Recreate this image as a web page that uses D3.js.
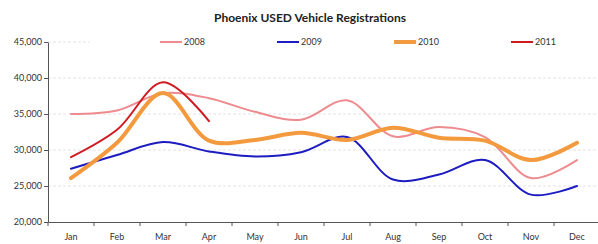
<!DOCTYPE html>
<html>
<head>
<meta charset="utf-8">
<script src="https://cdn.jsdelivr.net/npm/d3@7"></script>
<style>
  body { margin: 0; background: #fff; }
  text { font-family: "Lato", "Open Sans", sans-serif; }
</style>
</head>
<body>
<script>
// data
var months = ["Jan","Feb","Mar","Apr","May","Jun","Jul","Aug","Sep","Oct","Nov","Dec"];
var y2008 = [35000, 35500, 37900, 37200, 35300, 34200, 36900, 31900, 33200, 31800, 26100, 28600];
var y2009 = [27400, 29300, 31100, 29800, 29100, 29700, 31800, 25900, 26600, 28600, 23800, 25000];
var y2010 = [26100, 31000, 37900, 31300, 31400, 32400, 31400, 33100, 31700, 31300, 28600, 31000];
var y2011 = [29000, 32800, 39400, 34000];
var yTicks = [20000, 25000, 30000, 35000, 40000, 45000];

var series = [
  {name: "2008", values: y2008, color: "#EE8B8E", width: 2},
  {name: "2009", values: y2009, color: "#1C1CC0", width: 2},
  {name: "2010", values: y2010, color: "#F39A3E", width: 4},
  {name: "2011", values: y2011, color: "#D01A22", width: 2}
];

var svg = d3.select("body").append("svg")
  .attr("width", 598)
  .attr("height", 244);

var x = d3.scaleBand().domain(months).range([48, 600]);
var y = d3.scaleLinear().domain([20000, 45000]).range([222, 42]);

// gridlines
svg.append("g").selectAll("line")
  .data(yTicks.slice(1))
  .enter().append("line")
  .attr("x1", 48).attr("x2", 598)
  .attr("y1", function(d){ return y(d); })
  .attr("y2", function(d){ return y(d); })
  .attr("stroke", "#e2e2e2")
  .attr("stroke-dasharray", "3,2")
  .attr("stroke-width", 1);

// title
svg.append("text")
  .attr("x", 310).attr("y", 22)
  .attr("text-anchor", "middle")
  .style("font-size", "12px")
  .style("font-weight", "bold")
  .style("fill", "#222")
  .text("Phoenix USED Vehicle Registrations");

// y axis
var yAxis = svg.append("g")
  .attr("transform", "translate(48,0)")
  .call(d3.axisLeft(y).tickValues(yTicks).tickSize(4).tickSizeOuter(0).tickFormat(d3.format(",")));
yAxis.select(".domain").attr("stroke", "#555");
yAxis.selectAll(".tick line").attr("stroke", "#555");
yAxis.selectAll("text").style("font-size", "9px").style("fill", "#333").attr("x", -6);

// x axis
var xAxis = svg.append("g")
  .attr("transform", "translate(0,222)")
  .call(d3.axisBottom(x).tickSize(0).tickSizeOuter(0));
xAxis.select(".domain").attr("stroke", "#555");
xAxis.selectAll("text").style("font-size", "9px").style("fill", "#333").attr("y", 12);
xAxis.append("g").selectAll("line")
  .data(months)
  .enter().append("line")
  .attr("x1", function(d){ return x(d); })
  .attr("x2", function(d){ return x(d); })
  .attr("y1", 0).attr("y2", 4)
  .attr("stroke", "#555");

// legend background + entries
svg.append("rect")
  .attr("x", 90).attr("y", 35).attr("width", 508).attr("height", 14)
  .attr("fill", "#fff");
var legendX = [160, 277, 394, 511];
var legend = svg.append("g").selectAll("g")
  .data(series)
  .enter().append("g")
  .attr("transform", function(d, i){ return "translate(" + legendX[i] + ",42)"; });
legend.append("line")
  .attr("x1", 0).attr("x2", 22)
  .attr("stroke", function(d){ return d.color; })
  .attr("stroke-width", function(d){ return d.width; });
legend.append("text")
  .attr("x", 24).attr("y", 3)
  .style("font-size", "9px")
  .style("fill", "#333")
  .text(function(d){ return d.name; });

// lines
var line = d3.line()
  .x(function(d, i){ return x(months[i]) + x.bandwidth() / 2; })
  .y(function(d){ return y(d); })
  .curve(d3.curveCatmullRom.alpha(0.5));

svg.append("g").selectAll("path")
  .data(series)
  .enter().append("path")
  .attr("d", function(d){ return line(d.values); })
  .attr("fill", "none")
  .attr("stroke", function(d){ return d.color; })
  .attr("stroke-width", function(d){ return d.width; })
  .attr("stroke-linecap", "round");
</script>
</body>
</html>
